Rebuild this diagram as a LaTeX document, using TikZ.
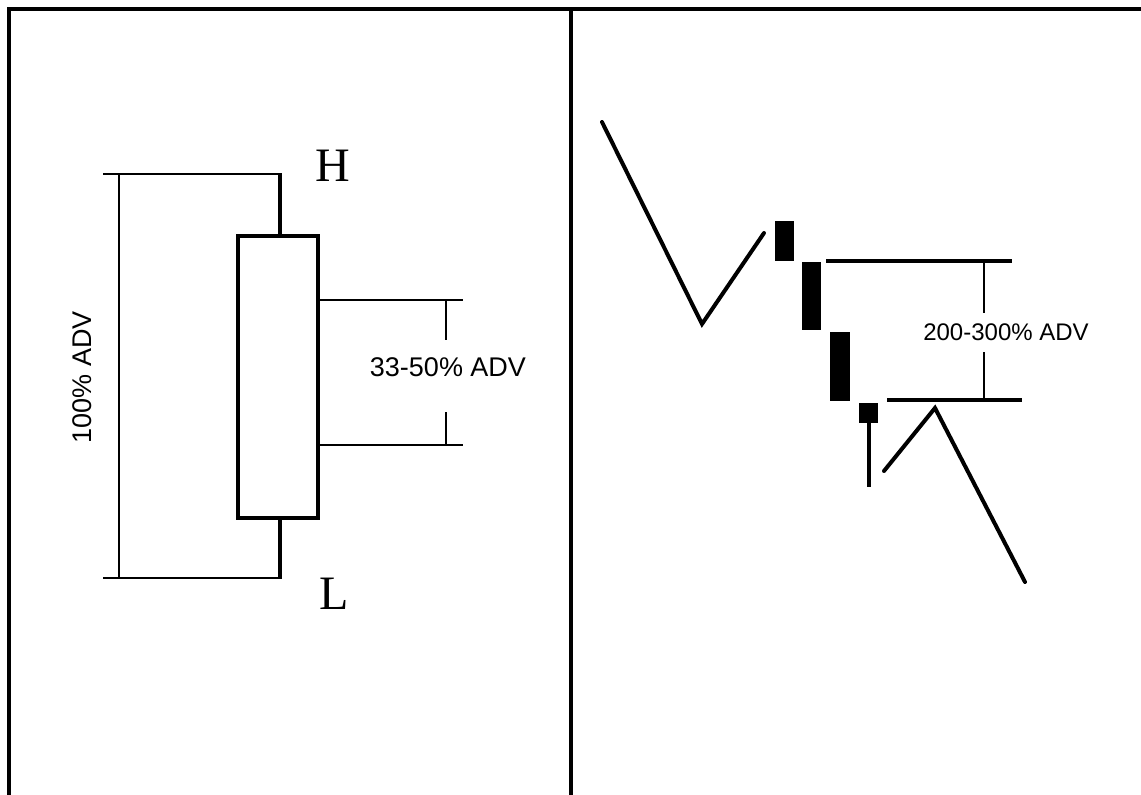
\documentclass[tikz,border=0pt]{standalone}
\usepackage{fontspec}
\setmainfont{Liberation Serif}
\newfontfamily\labelfont{Liberation Sans}
\tikzset{
    frameline/.style={line width=3.5pt},
    dimline/.style={line width=1.6pt},
    wickline/.style={line width=4pt},
    trendline/.style={line width=4pt, line cap=round},
    candlebody/.style={fill=black, draw=none},
    advlabel/.style={font=\labelfont\fontsize{27}{30}\selectfont, inner sep=0pt},
    hllabel/.style={font=\fontsize{48}{52}\selectfont, inner sep=0pt}
}
\begin{document}
\begin{tikzpicture}[x=1pt,y=-1pt]
        \useasboundingbox (0,0) rectangle (1141,795);
        % frame
        \draw[frameline] (9,795) -- (9,9) -- (1141,9);
        \draw[line width=4.5pt] (571,9) -- (571,795);
        % left panel: single candle
        \draw[dimline] (103,174) -- (282,174);
        \draw[dimline] (103,578) -- (282,578);
        \draw[dimline] (119,174) -- (119,578);
        \draw[wickline] (280,174) -- (280,238);
        \draw[wickline] (280,516) -- (280,578);
        \draw[line width=4.5pt] (238,236) rectangle (318,518);
        \node[hllabel] (high) at (333,166) {H};
        \node[hllabel] (low) at (334,594) {L};
        \node[advlabel, rotate=90] (fullrange) at (82,377) {100\% ADV};
        \draw[dimline] (318,300) -- (463,300);
        \draw[dimline] (318,445) -- (463,445);
        \draw[dimline] (446,300) -- (446,340);
        \draw[dimline] (446,412) -- (446,445);
        \node[advlabel] (bodyrange) at (448,367) {33-50\% ADV};
        % right panel: wide range bars
        \draw[trendline] (602,122) -- (702,324) -- (764,233);
        \fill[candlebody] (775,221) rectangle (794,261);
        \fill[candlebody] (802,262) rectangle (821,330);
        \fill[candlebody] (830,332) rectangle (850,401);
        \fill[candlebody] (859,403) rectangle (878,423);
        \draw[wickline] (869,423) -- (869,487);
        \draw[wickline] (826,261) -- (1012,261);
        \draw[wickline] (887,400) -- (1022,400);
        \draw[dimline] (984,261) -- (984,313);
        \draw[dimline] (984,352) -- (984,400);
        \node[advlabel, font=\labelfont\fontsize{24}{28}\selectfont] (barrange) at (1006,332) {200-300\% ADV};
        \draw[trendline] (884,471) -- (935,408) -- (1025,582);
    \end{tikzpicture}
\end{document}
